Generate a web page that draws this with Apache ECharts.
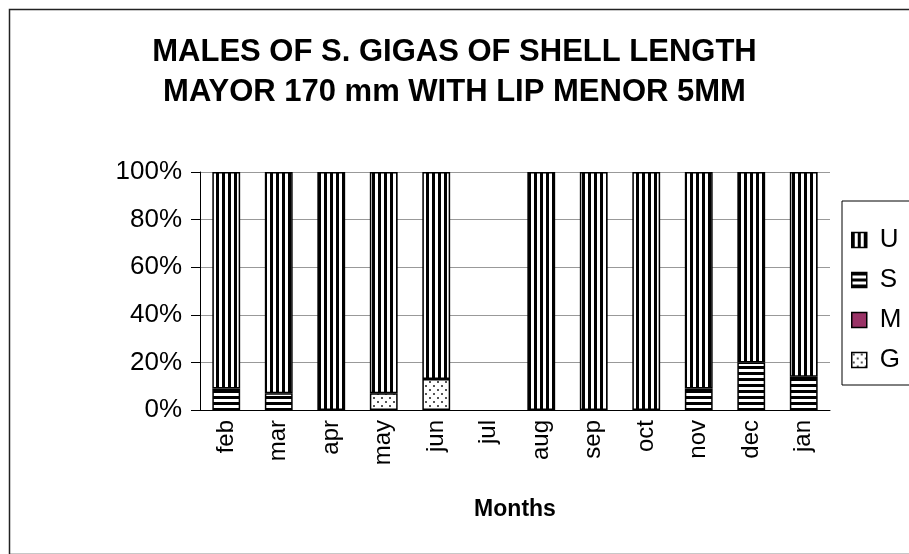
<!DOCTYPE html>
<html>
<head>
<meta charset="utf-8">
<script src="https://cdn.jsdelivr.net/npm/echarts@6/dist/echarts.min.js"></script>
<style>
  html, body { margin: 0; padding: 0; background: #fff; }
  #chart { width: 909px; height: 554px; }
</style>
</head>
<body>
<div id="chart"></div>
<script>
// months on the x axis
var months = ["feb", "mar", "apr", "may", "jun", "jul", "aug", "sep", "oct", "nov", "dec", "jan"];
// percentages per stage
var valuesU = [91, 93, 100, 93, 87, 0, 100, 100, 100, 91, 80, 86];
var valuesS = [9, 7, 0, 0, 0, 0, 0, 0, 0, 9, 20, 14];
var valuesM = [0, 0, 0, 0, 0, 0, 0, 0, 0, 0, 0, 0];
var valuesG = [0, 0, 0, 7, 13, 0, 0, 0, 0, 0, 0, 0];
var yTicks = [0, 20, 40, 60, 80, 100];

var FONT = "Liberation Sans, Arial, sans-serif";

// fill patterns (canvas)
function stripes(vertical) {
  var c = document.createElement("canvas");
  c.width = 6; c.height = 6;
  var ctx = c.getContext("2d");
  ctx.fillStyle = "#fff";
  ctx.fillRect(0, 0, 6, 6);
  ctx.fillStyle = "#000";
  if (vertical) ctx.fillRect(0, 0, 3, 6);
  else ctx.fillRect(0, 0, 6, 3);
  return { image: c, repeat: "repeat" };
}
function dots() {
  var c = document.createElement("canvas");
  c.width = 8; c.height = 8;
  var ctx = c.getContext("2d");
  ctx.fillStyle = "#fff";
  ctx.fillRect(0, 0, 8, 8);
  ctx.fillStyle = "#555";
  ctx.fillRect(1, 1, 2, 2);
  ctx.fillRect(5, 5, 2, 2);
  return { image: c, repeat: "repeat" };
}

function toData(arr) {
  // empty values are not drawn
  return arr.map(function (v) { return v === 0 ? "-" : v; });
}

var myChart = echarts.init(document.getElementById("chart"), null, { renderer: "canvas" });

function mkSeries(name, values, fill) {
  return {
    name: name,
    type: "bar",
    stack: "all",
    barWidth: "53%",
    data: toData(values),
    itemStyle: { color: fill, borderColor: "#000", borderWidth: 1.5 }
  };
}

var option = {
  animation: false,
  backgroundColor: "#fff",
  textStyle: { fontFamily: FONT },
  title: {
    text: "MALES OF S. GIGAS OF SHELL LENGTH\nMAYOR 170 mm WITH LIP MENOR 5MM",
    left: "center",
    top: 27,
    textStyle: { fontFamily: FONT, fontSize: 31, fontWeight: "bold", color: "#000", lineHeight: 40 }
  },
  legend: {
    orient: "vertical",
    left: 842,
    top: 201,
    data: ["U", "S", "M", "G"],
    icon: "rect",
    itemWidth: 15,
    itemHeight: 15,
    itemGap: 14,
    padding: [26, 40, 12, 9],
    borderColor: "#000",
    borderWidth: 1,
    backgroundColor: "#fff",
    textStyle: { fontFamily: FONT, fontSize: 26, color: "#000", padding: [0, 0, 0, 8] },
    itemStyle: { borderColor: "#000", borderWidth: 1.5 }
  },
  grid: { left: 200, right: 79, top: 172, bottom: 144 },
  xAxis: {
    type: "category",
    data: months,
    name: "Months",
    nameLocation: "middle",
    nameGap: 88,
    nameTextStyle: { fontFamily: FONT, fontSize: 23, fontWeight: "bold", color: "#000" },
    axisLine: { lineStyle: { color: "#000", width: 1 } },
    axisTick: { length: 8, lineStyle: { color: "#000" } },
    axisLabel: { rotate: 90, margin: 10, fontSize: 24, color: "#000", fontFamily: FONT }
  },
  yAxis: {
    type: "value",
    min: yTicks[0],
    max: yTicks[yTicks.length - 1],
    interval: yTicks[1] - yTicks[0],
    axisLine: { show: true, lineStyle: { color: "#000", width: 1 } },
    axisTick: { show: true, length: 9, lineStyle: { color: "#000" } },
    axisLabel: { formatter: "{value}%", margin: 18, fontSize: 26, color: "#000", fontFamily: FONT },
    splitLine: { show: true, lineStyle: { color: "#999", width: 1 } }
  },
  graphic: [
    {
      type: "rect",
      left: 7, top: 7,
      shape: { width: 920, height: 545 },
      style: { fill: "none", stroke: "#222", lineWidth: 1.5 },
      z: -1
    }
  ],
  series: [
    mkSeries("G", valuesG, dots()),
    mkSeries("M", valuesM, "#993366"),
    mkSeries("S", valuesS, stripes(false)),
    mkSeries("U", valuesU, stripes(true))
  ]
};
myChart.setOption(option);
</script>
</body>
</html>
